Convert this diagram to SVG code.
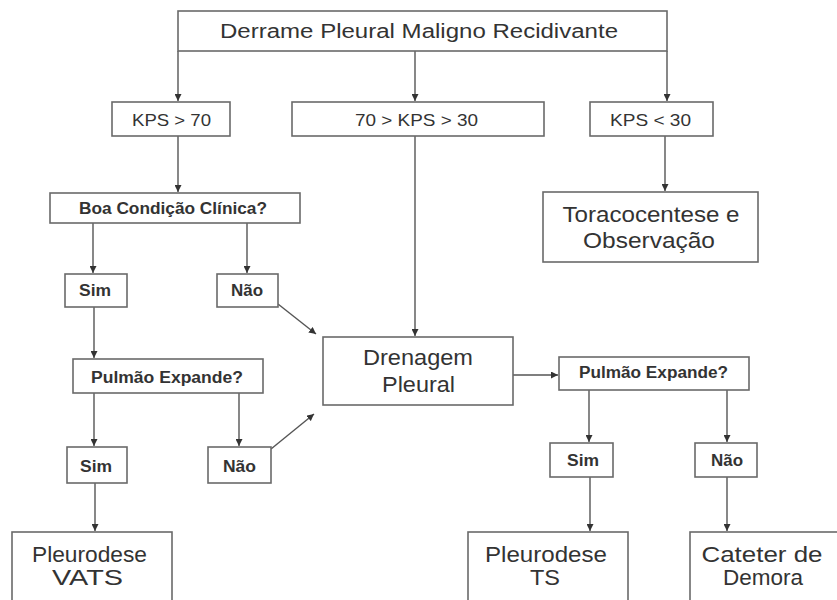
<svg xmlns="http://www.w3.org/2000/svg" width="837" height="600" viewBox="0 0 837 600">
<defs>
<style>
.box{fill:#fff;stroke:#6a6a6a;stroke-width:1.6}
.t{font-family:"Liberation Sans",Arial,sans-serif;fill:#333;text-anchor:middle}
.k{font-size:17px}
.b{font-size:16px;font-weight:bold}
.L{font-size:22px}
.c line{stroke:#555;stroke-width:1.4}
</style>
<marker id="ar" viewBox="0 0 8 8" refX="8" refY="4" markerWidth="7" markerHeight="7" markerUnits="userSpaceOnUse" orient="auto">
<path d="M0,0 L8,4 L0,8 z" fill="#333"/>
</marker>
</defs>
<rect width="837" height="600" fill="#fff"/>
<g class="c" id="connectors">
<line x1="178" y1="51" x2="178" y2="101" marker-end="url(#ar)"/>
<line x1="415" y1="51" x2="415" y2="101" marker-end="url(#ar)"/>
<line x1="667" y1="51" x2="667" y2="101" marker-end="url(#ar)"/>
<line x1="178" y1="136" x2="178" y2="192" marker-end="url(#ar)"/>
<line x1="415" y1="136" x2="415" y2="336" marker-end="url(#ar)"/>
<line x1="665" y1="136" x2="665" y2="191" marker-end="url(#ar)"/>
<line x1="93" y1="223" x2="93" y2="273" marker-end="url(#ar)"/>
<line x1="247" y1="223" x2="247" y2="273" marker-end="url(#ar)"/>
<line x1="94" y1="307" x2="94" y2="358" marker-end="url(#ar)"/>
<line x1="278" y1="304" x2="316" y2="334" marker-end="url(#ar)"/>
<line x1="94" y1="393" x2="94" y2="446" marker-end="url(#ar)"/>
<line x1="239" y1="393" x2="239" y2="446" marker-end="url(#ar)"/>
<line x1="271" y1="449" x2="314" y2="414" marker-end="url(#ar)"/>
<line x1="95" y1="483" x2="95" y2="531" marker-end="url(#ar)"/>
<line x1="513" y1="375" x2="558" y2="375" marker-end="url(#ar)"/>
<line x1="589" y1="390" x2="589" y2="442" marker-end="url(#ar)"/>
<line x1="727" y1="390" x2="727" y2="442" marker-end="url(#ar)"/>
<line x1="590" y1="477" x2="590" y2="531" marker-end="url(#ar)"/>
<line x1="727" y1="477" x2="727" y2="531" marker-end="url(#ar)"/>
</g>
<g id="n-title"><rect class="box" x="178" y="11" width="489" height="40"/><text class="t" x="419" y="38" font-size="20" textLength="398" lengthAdjust="spacingAndGlyphs">Derrame Pleural Maligno Recidivante</text></g>
<g id="n-kps70"><rect class="box" x="112" y="102" width="118" height="34"/><text class="t k" x="171.5" y="126" textLength="79" lengthAdjust="spacingAndGlyphs">KPS &gt; 70</text></g>
<g id="n-kps7030"><rect class="box" x="292" y="102" width="252" height="34"/><text class="t k" x="416.5" y="126" textLength="123" lengthAdjust="spacingAndGlyphs">70 &gt; KPS &gt; 30</text></g>
<g id="n-kps30"><rect class="box" x="590" y="102" width="123" height="34"/><text class="t k" x="650.5" y="126" textLength="81" lengthAdjust="spacingAndGlyphs">KPS &lt; 30</text></g>
<g id="n-toraco"><rect class="box" x="543" y="192" width="215" height="70"/><text class="t L" x="651" y="222" textLength="177" lengthAdjust="spacingAndGlyphs">Toracocentese e</text><text class="t L" x="649" y="248" textLength="132" lengthAdjust="spacingAndGlyphs">Observação</text></g>
<g id="n-boa"><rect class="box" x="50" y="193" width="250" height="30"/><text class="t b" x="173" y="214" textLength="188" lengthAdjust="spacingAndGlyphs">Boa Condição Clínica?</text></g>
<g id="n-sim1"><rect class="box" x="65" y="274" width="62" height="33"/><text class="t b" x="95" y="296" textLength="32" lengthAdjust="spacingAndGlyphs">Sim</text></g>
<g id="n-nao1"><rect class="box" x="217" y="274" width="61" height="33"/><text class="t b" x="247" y="296" textLength="32" lengthAdjust="spacingAndGlyphs">Não</text></g>
<g id="n-pulmao1"><rect class="box" x="73" y="359" width="190" height="34"/><text class="t b" x="167" y="383" textLength="152" lengthAdjust="spacingAndGlyphs">Pulmão Expande?</text></g>
<g id="n-sim2"><rect class="box" x="67" y="447" width="60" height="36"/><text class="t b" x="96" y="472" textLength="32" lengthAdjust="spacingAndGlyphs">Sim</text></g>
<g id="n-nao2"><rect class="box" x="208" y="447" width="63" height="36"/><text class="t b" x="239.5" y="472" textLength="33" lengthAdjust="spacingAndGlyphs">Não</text></g>
<g id="n-drenagem"><rect class="box" x="323" y="337" width="190" height="68"/><text class="t L" x="418" y="365" textLength="110" lengthAdjust="spacingAndGlyphs">Drenagem</text><text class="t L" x="418.5" y="392" textLength="73" lengthAdjust="spacingAndGlyphs">Pleural</text></g>
<g id="n-pulmao2"><rect class="box" x="559" y="357" width="190" height="33"/><text class="t b" x="653.5" y="378" textLength="149" lengthAdjust="spacingAndGlyphs">Pulmão Expande?</text></g>
<g id="n-sim3"><rect class="box" x="550" y="443" width="63" height="34"/><text class="t b" x="583" y="466" textLength="32" lengthAdjust="spacingAndGlyphs">Sim</text></g>
<g id="n-nao3"><rect class="box" x="695" y="443" width="62" height="34"/><text class="t b" x="727" y="466" textLength="32" lengthAdjust="spacingAndGlyphs">Não</text></g>
<g id="n-vats"><rect class="box" x="12" y="532" width="160" height="80"/><text class="t L" x="89.5" y="562" textLength="115" lengthAdjust="spacingAndGlyphs">Pleurodese</text><text class="t L" x="87.5" y="585" textLength="71" lengthAdjust="spacingAndGlyphs">VATS</text></g>
<g id="n-ts"><rect class="box" x="468" y="532" width="160" height="80"/><text class="t L" x="546" y="562" textLength="122" lengthAdjust="spacingAndGlyphs">Pleurodese</text><text class="t L" x="545" y="585" textLength="30" lengthAdjust="spacingAndGlyphs">TS</text></g>
<g id="n-cateter"><rect class="box" x="690" y="532" width="160" height="80"/><text class="t L" x="762" y="562" textLength="121" lengthAdjust="spacingAndGlyphs">Cateter de</text><text class="t L" x="763" y="585" textLength="80" lengthAdjust="spacingAndGlyphs">Demora</text></g>
</svg>
